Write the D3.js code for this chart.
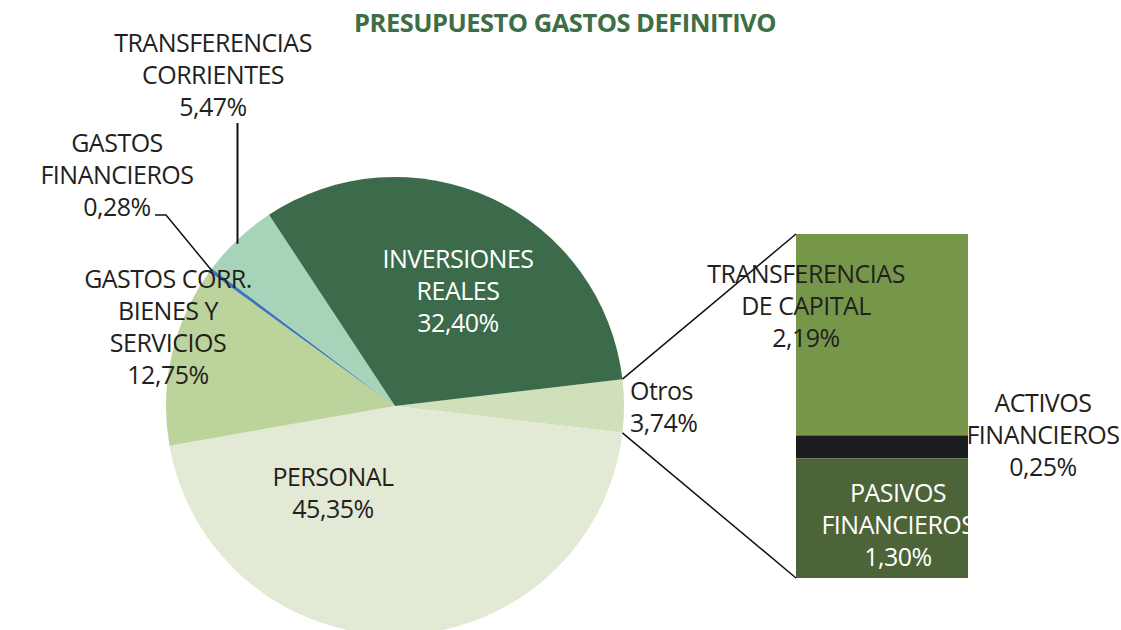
<!DOCTYPE html>
<html><head><meta charset="utf-8">
<script src="https://cdn.jsdelivr.net/npm/d3@7"></script>
<style>
html,body{margin:0;padding:0;background:#fff;}
svg{display:block;font-family:"Open Sans",sans-serif;}
</style></head>
<body>
<svg id="chart" width="1121" height="630"></svg>
<script>
// ---- data ----
const title = "PRESUPUESTO GASTOS DEFINITIVO";
const pieCategories = ["Otros", "PERSONAL", "GASTOS CORR. BIENES Y SERVICIOS", "GASTOS FINANCIEROS", "TRANSFERENCIAS CORRIENTES", "INVERSIONES REALES"];
const pieLabelLines = [["Otros"], ["PERSONAL"], ["GASTOS CORR.", "BIENES Y", "SERVICIOS"], ["GASTOS", "FINANCIEROS"], ["TRANSFERENCIAS", "CORRIENTES"], ["INVERSIONES", "REALES"]];
const pieValues = [3.74, 45.35, 12.75, 0.28, 5.47, 32.40];
const barCategories = ["TRANSFERENCIAS DE CAPITAL", "ACTIVOS FINANCIEROS", "PASIVOS FINANCIEROS"];
const barLabelLines = [["TRANSFERENCIAS", "DE CAPITAL"], ["ACTIVOS", "FINANCIEROS"], ["PASIVOS", "FINANCIEROS"]];
const barValues = [2.19, 0.25, 1.30];

// ---- styles ----
const pieColors = ["#d0e0bb", "#e2e9d5", "#bcd39b", "#3f78b8", "#a7d4b9", "#3b6b4a"];
const barColors = ["#76974a", "#1b1c1d", "#4d6438"];
const textColor = "#231f20";

const svg = d3.select("#chart");
const locale = d3.formatLocale({decimal: ",", thousands: ".", grouping: [3], currency: ["", "€"]});
const pct = v => locale.format(".2f")(v) + "%";

// title
svg.append("text").attr("x", 565).attr("y", 32).attr("text-anchor", "middle")
  .attr("fill", "#3d6e45").attr("font-weight", 700).attr("font-size", 25.5)
  .attr("letter-spacing", -0.5).text(title);

// ---- pie ----
const cx = 395, cy = 406, R = 229;
const total = d3.sum(pieValues);
const startA = Math.PI / 2 - (pieValues[0] / total) * Math.PI;
const pie = d3.pie().sort(null).value(d => d)
  .startAngle(startA).endAngle(startA + 2 * Math.PI);
const arcs = pie(pieValues);
const arc = d3.arc().innerRadius(0).outerRadius(R);
const g = svg.append("g").attr("transform", `translate(${cx},${cy})`);
g.selectAll("path").data(arcs).join("path")
  .attr("d", arc).attr("fill", (d, i) => pieColors[i]);

const fs = 25, lh = 32;
function lines(x, y, arr, color, anchor) {
  const t = svg.append("text").attr("x", x).attr("y", y)
    .attr("text-anchor", anchor || "middle").attr("fill", color || textColor)
    .attr("font-size", fs).attr("letter-spacing", -0.5);
  arr.forEach((s, i) => t.append("tspan").attr("x", x).attr("y", y + i * lh).text(s));
}
// label layout (x center, first baseline)
const pieLabelPos = [[630, 400, "start"], [333, 486], [168, 288], [117, 152], [213, 52], [458, 268]];
arcs.forEach((a, i) => {
  const p = pieLabelPos[i];
  lines(p[0], p[1], pieLabelLines[i].concat([pct(pieValues[i])]),
        i === 5 ? "#ffffff" : textColor, p[2]);
});

// leader lines
function onEdge(angle, r) { return [cx + r * Math.sin(angle), cy - r * Math.cos(angle)]; }
const gf = arcs[3], tc = arcs[4];
const pGF = onEdge((gf.startAngle + gf.endAngle) / 2, R - 2);
svg.append("path").attr("fill", "none").attr("stroke", "#111").attr("stroke-width", 1.5)
  .attr("d", `M155,215 L166,215 L${pGF[0]},${pGF[1]}`);
svg.append("line").attr("stroke", "#111").attr("stroke-width", 2)
  .attr("x1", 237.5).attr("y1", 123).attr("x2", 237.5).attr("y2", cy - Math.sqrt(R * R - (237.5 - cx) ** 2) + 4);

// ---- stacked bar ----
const barX = 796, barW = 172, barTop = 234, barH = 344;
const y = d3.scaleLinear().domain([0, d3.sum(barValues)]).range([barTop, barTop + barH]);
const stack = d3.stack().keys(d3.range(barValues.length))([barValues]);
svg.append("g").selectAll("rect").data(stack).join("rect")
  .attr("x", barX).attr("width", barW)
  .attr("y", d => y(d[0][0])).attr("height", d => y(d[0][1]) - y(d[0][0]))
  .attr("fill", (d, i) => barColors[i]);

// connectors
const o = arcs[0];
const p1 = onEdge(o.startAngle, R), p2 = onEdge(o.endAngle, R);
svg.append("line").attr("stroke", "#111").attr("stroke-width", 1.5)
  .attr("x1", p1[0]).attr("y1", p1[1]).attr("x2", barX).attr("y2", y(0));
svg.append("line").attr("stroke", "#111").attr("stroke-width", 1.5)
  .attr("x1", p2[0]).attr("y1", p2[1]).attr("x2", barX).attr("y2", y(d3.sum(barValues)));

const barLabelPos = [[806, 283, textColor], [1043, 412, textColor], [898, 502, "#ffffff"]];
barValues.forEach((v, i) => {
  const p = barLabelPos[i];
  lines(p[0], p[1], barLabelLines[i].concat([pct(v)]), p[2]);
});
</script>
</body></html>
